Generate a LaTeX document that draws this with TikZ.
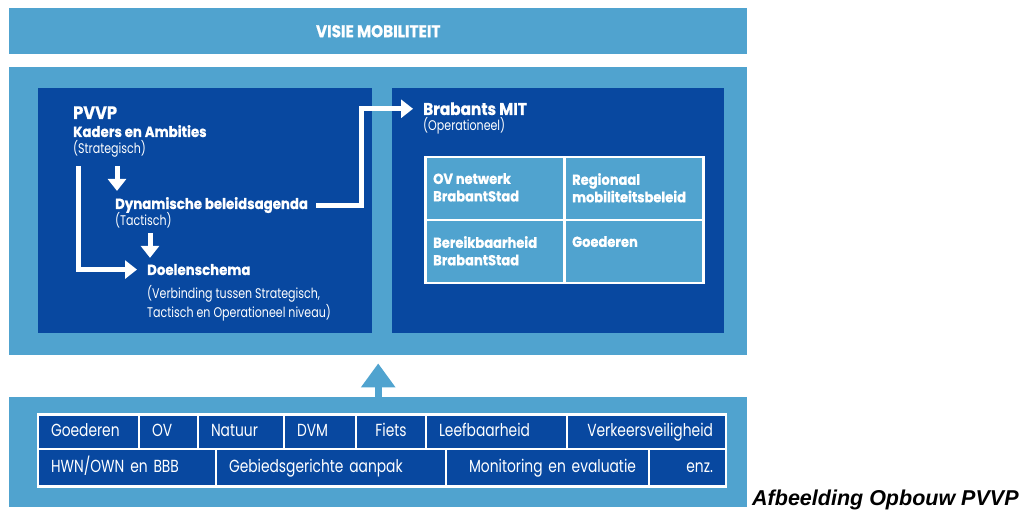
\documentclass[tikz,border=0pt]{standalone}
\usepackage{fontspec}
\setmainfont{Poppins}
\newfontfamily\futl{Poppins}[FakeStretch=0.79]
\newfontfamily\futb{Poppins}[FakeStretch=0.9,BoldFeatures={FakeBold=0.8}]
\newfontfamily\capf{Liberation Sans}
\usetikzlibrary{arrows.meta}
\definecolor{lightblu}{RGB}{80,163,207}
\definecolor{darkblu}{RGB}{8,72,160}

\begin{document}
\begin{tikzpicture}[x=1pt,y=-1pt,
  every node/.style={inner sep=0pt,text=white},
  band/.style={fill=lightblu,minimum width=738pt,anchor=north west},
  panel/.style={fill=darkblu,minimum height=245pt,anchor=north west},
  hd/.style={font=\futb\bfseries\fontsize{14.8}{14.8}\selectfont,anchor=base west},
  sub/.style={font=\futl\fontsize{14}{14}\selectfont,anchor=base west},
  mcell/.style={fill=lightblu,draw=white,line width=2.5pt,minimum width=139pt,minimum height=63pt,anchor=north west},
  mtext/.style={font=\futb\bfseries\fontsize{14.5}{17.5}\selectfont,align=left,anchor=north west},
  ccell/.style={fill=darkblu,draw=white,line width=2.5pt,inner xsep=13pt,text height=12pt,text depth=3pt,font=\futl\fontsize{17.5}{17.5}\selectfont},
  warrow/.style={draw=white,line width=5pt,-{Triangle[width=18pt,length=12pt]}},
  barrow/.style={draw=lightblu,line width=7pt,-{Triangle[width=33pt,length=24pt]}}]
  \useasboundingbox (0,0) rectangle (1020,510);
  % bands
  \node[band,minimum height=46pt,font=\futb\bfseries\fontsize{17}{17}\selectfont] (visie) at (9,8) {VISIE MOBILITEIT};
  \node[band,minimum height=288pt] (midband) at (9,67) {};
  \node[band,minimum height=110pt] (botband) at (9,397) {};
  \node[panel,minimum width=334pt] (pvvpbox) at (38,88) {};
  \node[panel,minimum width=332pt] (mitbox) at (392,88) {};
  % PVVP
  \node[hd,font=\futb\bfseries\fontsize{18}{18}\selectfont] (pvvp) at (73,119) {PVVP};
  \node[hd] (kaders) at (73,137) {Kaders en Ambities};
  \node[sub] (strat) at (73,154) {(Strategisch)};
  \node[hd] (dyn) at (115,209) {Dynamische beleidsagenda};
  \node[sub] (tact) at (115,226) {(Tactisch)};
  \node[hd] (doel) at (147,275) {Doelenschema};
  \node[sub] (verb1) at (147,299) {(Verbinding tussen Strategisch,};
  \node[sub] (verb2) at (147,318) {Tactisch en Operationeel niveau)};
  \draw[warrow,shorten <=8pt,shorten >=6pt] ([xshift=2pt]dyn.west |- strat.south) -- ([xshift=2pt]dyn.north west);
  \draw[warrow,shorten <=4pt,shorten >=6pt] ([xshift=3pt]doel.west |- tact.south) -- ([xshift=3pt]doel.north west);
  \draw[warrow] ([shift={(5,8)}]strat.south west) |- ([xshift=-10pt]doel.west);
  % Brabants MIT
  \node[hd,font=\futb\bfseries\fontsize{17}{17}\selectfont] (mit) at (423,115) {Brabants MIT};
  \node[sub] (oper) at (423,131) {(Operationeel)};
  \draw[warrow] ([xshift=8pt]dyn.east) -- ([xshift=53pt]dyn.east) |- ([xshift=-10pt]mit.west);
  \foreach \x/\y/\n in {424/156/ov,563/156/reg,424/219/ber,563/219/goe}
    \node[mcell] (\n) at (\x,\y) {};
  \node[mtext] (ovt) at ([shift={(9,17)}]ov.north west) {OV netwerk\\BrabantStad};
  \node[mtext] (regt) at ([shift={(9,17)}]reg.north west) {Regionaal\\mobiliteitsbeleid};
  \node[mtext] (bert) at ([shift={(9,17)}]ber.north west) {Bereikbaarheid\\BrabantStad};
  \node[mtext] (goet) at ([shift={(9,17)}]goe.north west) {Goederen};
  % thema's
  \fill[white] (37,413) rectangle (727,488);
  \foreach \c/\w/\t/\al [count=\i,evaluate=\w as \tw using \w-26] in
    {88.5/101/Goederen/left,168.5/59/OV/left,241/86/Natuur/left,320/72/DVM/left,
     391/70/Fiets/center,496.5/141/Leefbaarheid/left,646.5/159/Verkeersveiligheid/right}
    \node[ccell,minimum width=\w pt,minimum height=34pt,text width=\tw pt,align=\al] (ra\i) at (\c,432) {\t};
  \foreach \c/\w/\t/\al [count=\i,evaluate=\w as \tw using \w-26] in
    {127/178/{HWN/OWN en BBB}/left,331/230/Gebiedsgerichte aanpak/left,
     547.5/203/Monitoring en evaluatie/right,687.5/77/enz./right}
    \node[ccell,minimum width=\w pt,minimum height=37pt,text width=\tw pt,align=\al] (rb\i) at (\c,467.5) {\t};
  \draw[barrow,shorten >=8pt] (botband.north) -- (midband.south);
  \node[font=\capf\bfseries\itshape\fontsize{21.5}{21.5}\selectfont,text=black,anchor=base west] (capt) at (752,505) {Afbeelding Opbouw PVVP};
\end{tikzpicture}
\end{document}
